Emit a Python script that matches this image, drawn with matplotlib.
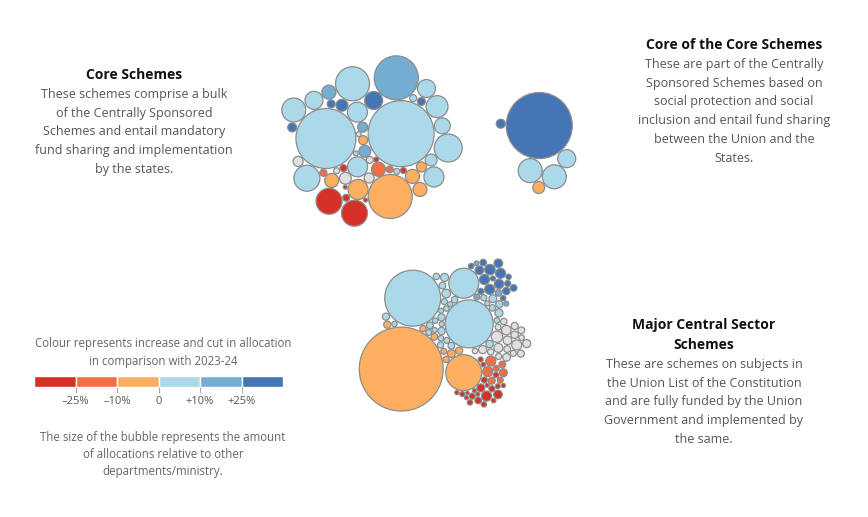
import numpy as np
import matplotlib.pyplot as plt
from matplotlib.patches import Circle

plt.rcParams['font.family'] = ['Open Sans', 'DejaVu Sans']

# allocation per scheme (Rs '000 crore) and change bin vs 2023-24
# bins: -3 cut >25%, -2 cut 10-25%, -1 cut 0-10%, 0 no comparison, 1 up 0-10%, 2 up 10-25%, 3 up >25%
core_values = [86, 71, 38.2, 38.2, 22.8, 15.4, 13.3, 11.3, 13.3, 13.3,
               7.9, 7.9, 7.9, 9.5, 6.4, 5.0, 7.9, 6.4, 3.9, 2.8,
               2.0, 2.8, 1.6, 1.26, 1.26, 0.71, 0.49, 0.96, 6.4, 2.8,
               2.8, 2.0, 2.0, 0.96, 0.71, 0.49, 3.9, 3.9, 3.9, 2.0,
               1.6, 3.9, 0.96, 0.96, 0.31, 0.96, 0.71, 0.96, 0.31, 0.49]
core_bins = [1, 1, 2, -1, 1, 1, 1, 1, -3, -3,
             1, 1, 1, 1, 1, 1, -1, 3, 2, 2,
             2, 3, 3, 3, 3, 1, 1, 1, 1, 1,
             0, 0, 0, 0, 0, 0, -1, -1, -1, -1,
             -1, -2, -2, -2, -3, -3, -3, -3, -3, -3]

cc_values = [86, 1.6, 11.3, 11.3, 6.4, 2.8]
cc_bins = [3, 3, 1, 1, 1, -1]

major_values = [139, 61.7, 45.4, 25.5, 17.7,
                2.2, 2.0, 2.0, 2.0, 1.74, 1.46, 1.46, 1.08, 0.86, 0.86, 0.71, 0.71, 0.57, 0.57, 0.57, 0.49,
                0.86, 0.71, 0.49, 0.42,
                1.5, 1.3, 1.3, 1.2, 1.1, 1.1, 1.0, 1.0, 1.0, 0.9, 0.9, 0.9, 0.85, 0.8, 0.8,
                0.8, 0.75, 0.7, 0.7, 0.7, 0.65, 0.6, 0.6, 0.6, 0.55, 0.5, 0.5, 0.5, 0.5, 0.5,
                2.56, 2.0, 1.8, 1.6, 1.5, 1.3, 1.3, 1.2, 1.1, 1.0, 1.0, 0.9, 0.9, 0.8, 0.8,
                0.75, 0.7, 0.7, 0.6, 0.6,
                1.2, 1.0, 1.0, 0.9, 0.8, 0.8, 0.7,
                2.0, 2.0, 1.26, 0.96, 0.9, 0.71, 0.71,
                2.0, 1.46, 1.26, 0.86, 0.71, 0.71, 0.71, 0.57, 0.57, 0.57, 0.49, 0.49, 0.49,
                0.42, 0.42, 0.35, 0.35, 0.31, 0.31, 0.31, 0.31, 0.25]
major_bins = [-1, 1, 1, -1, 1,
              3, 3, 3, 3, 3, 3, 3, 3, 3, 3, 3, 3, 3, 3, 3, 3,
              2, 2, 2, 2,
              1, 1, 1, 1, 1, 1, 1, 1, 1, 1, 1, 1, 1, 1, 1,
              1, 1, 1, 1, 1, 1, 1, 1, 1, 1, 1, 1, 1, 1, 1,
              0, 0, 0, 0, 0, 0, 0, 0, 0, 0, 0, 0, 0, 0, 0,
              0, 0, 0, 0, 0,
              -1, -1, -1, -1, -1, -1, -1,
              -2, -2, -2, -2, -2, -2, -2,
              -3, -3, -3, -3, -3, -3, -3, -3, -3, -3, -3, -3, -3,
              -3, -3, -3, -3, -3, -3, -3, -3, -3]

bin_colors = {-3: '#d73027', -2: '#f46d43', -1: '#fdae61', 0: '#e0e0e0',
              1: '#abd9e9', 2: '#74add1', 3: '#4575b4'}

legend_bins = [-3, -2, -1, 1, 2, 3]
legend_ticks = ['\u201325%', '\u201310%', '0', '+10%', '+25%']


def pack(values, bins, centre, offsets, spin=0.0, pull=(0.05, 0.09), lean=0.0, scale=3.56, iters=300):
    """small force layout: pull each bubble to its colour band, push overlaps apart"""
    r = scale * np.sqrt(np.asarray(values, float))
    b = list(bins)
    n = len(r)
    # lean > 0 pulls big bubbles left and small ones right
    tx = centre[0] + np.array([offsets[k][0] for k in b], float) - lean * (r - r.mean())
    ty = centre[1] + np.array([offsets[k][1] for k in b], float)
    order = np.argsort(-r, kind='stable')
    k = np.arange(n)
    rad = 6 * np.sqrt(k + 0.5)
    ang = k * np.pi * (3 - np.sqrt(5)) + spin
    x = np.empty(n)
    y = np.empty(n)
    x[order] = centre[0] + rad * np.cos(ang)
    y[order] = centre[1] + rad * np.sin(ang)
    x = 0.5 * x + 0.5 * tx
    y = 0.5 * y + 0.5 * ty
    vx = np.zeros(n)
    vy = np.zeros(n)
    rr = r[:, None] + r[None, :] + 1.0
    w = r ** 2
    wj = w[None, :] / (w[:, None] + w[None, :])
    eye = np.eye(n, dtype=bool)
    alpha = 1.0
    decay = 1 - 0.001 ** (1 / 300)
    for _ in range(iters):
        alpha += (0 - alpha) * decay
        vx += (tx - x) * pull[0] * alpha
        vy += (ty - y) * pull[1] * alpha
        for _ in range(2):
            px, py = x + vx, y + vy
            dx = px[:, None] - px[None, :]
            dy = py[:, None] - py[None, :]
            d = np.hypot(dx, dy)
            d[eye] = 1
            ov = np.clip(rr - d, 0, None)
            ov[eye] = 0
            f = ov / d * 0.5 * wj
            vx += (f * dx).sum(1)
            vy += (f * dy).sum(1)
        vx *= 0.6
        vy *= 0.6
        x += vx
        y += vy
    for _ in range(400):
        dx = x[:, None] - x[None, :]
        dy = y[:, None] - y[None, :]
        d = np.hypot(dx, dy)
        d[eye] = 1
        ov = np.clip(rr - 0.5 - d, 0, None)
        ov[eye] = 0
        if ov.max() < 0.05:
            break
        f = ov / d * 0.5 * wj
        x += (f * dx).sum(1)
        y += (f * dy).sum(1)
    # centre the cluster's bounding box
    x += centre[0] - (np.min(x - r) + np.max(x + r)) / 2
    y += centre[1] - (np.min(y - r) + np.max(y + r)) / 2
    return x, y, r


fig = plt.figure(figsize=(8.68, 5.17), dpi=100)
ax = fig.add_axes([0, 0, 1, 1])
ax.set_xlim(0, 868)
ax.set_ylim(517, 0)
ax.axis('off')

core_off = {3: (0, -30), 2: (5, -30), 1: (0, -7), 0: (0, 13), -1: (8, 20), -2: (-15, 27), -3: (-15, 30)}
cc_off = {3: (0, -12), 1: (8, 30), -1: (8, 45)}
major_off = {3: (30, -55), 2: (30, -47), 1: (0, -26), 0: (45, 0), -1: (-15, 22), -2: (35, 30), -3: (30, 45)}

clusters = [(core_values, core_bins, (372, 141), core_off, 0.74, (0.05, 0.09), 0.0),
            (cc_values, cc_bins, (536, 143), cc_off, -1.3, (0.05, 0.09), 0.0),
            (major_values, major_bins, (445, 335), major_off, 1.39, (0.05, 0.09), 0.6)]
for vals, bins, centre, off, spin, pull, lean in clusters:
    x, y, r = pack(vals, bins, centre, off, spin, pull, lean)
    for xi, yi, ri, bi in zip(x, y, r, bins):
        ax.add_patch(Circle((xi, yi), ri, fc=bin_colors[bi], ec='#8c8c8c', lw=0.9))

title_kw = dict(ha='center', va='center', fontsize=10, fontweight='bold', color='#111111')
body_kw = dict(ha='center', va='center', fontsize=9, color='#555555')


def block(x, y_title, titles, lines, dy=18.7):
    for i, t in enumerate(titles):
        ax.text(x, y_title + i * 20, t, **title_kw)
    y0 = y_title + (len(titles) - 1) * 20 + 19.5
    for i, line in enumerate(lines):
        ax.text(x, y0 + i * dy, line, **body_kw)


block(134, 75, ['Core Schemes'],
      ['These schemes comprise a bulk', 'of the Centrally Sponsored',
       'Schemes and entail mandatory', 'fund sharing and implementation', 'by the states.'])
block(734, 45, ['Core of the Core Schemes'],
      ['These are part of the Centrally', 'Sponsored Schemes based on',
       'social protection and social', 'inclusion and entail fund sharing',
       'between the Union and the', 'States.'])
block(704, 325, ['Major Central Sector', 'Schemes'],
      ['These are schemes on subjects in', 'the Union List of the Constitution',
       'and are fully funded by the Union', 'Government and implemented by', 'the same.'])

# colour legend
leg_kw = dict(ha='center', va='center', fontsize=8.3, color='#666666')
ax.text(163, 344, 'Colour represents increase and cut in allocation', **leg_kw)
ax.text(163, 361, 'in comparison with 2023-24', **leg_kw)
seg_w = 41.5
lefts = 34 + seg_w * np.arange(len(legend_bins))
ax.bar(lefts, 11, width=seg_w, bottom=376, align='edge',
       color=[bin_colors[b] for b in legend_bins], edgecolor='white', linewidth=1)
bounds = lefts[1:]
ax.vlines(bounds, 387, 393, color='#aaaaaa', lw=0.8)
for bx, lab in zip(bounds, legend_ticks):
    ax.text(bx, 402, lab, ha='center', va='center', fontsize=8, color='#555555')
for i, line in enumerate(['The size of the bubble represents the amount',
                          'of allocations relative to other', 'departments/ministry.']):
    ax.text(163, 437 + i * 17.5, line, **leg_kw)

fig.savefig('out.png', dpi=100)
